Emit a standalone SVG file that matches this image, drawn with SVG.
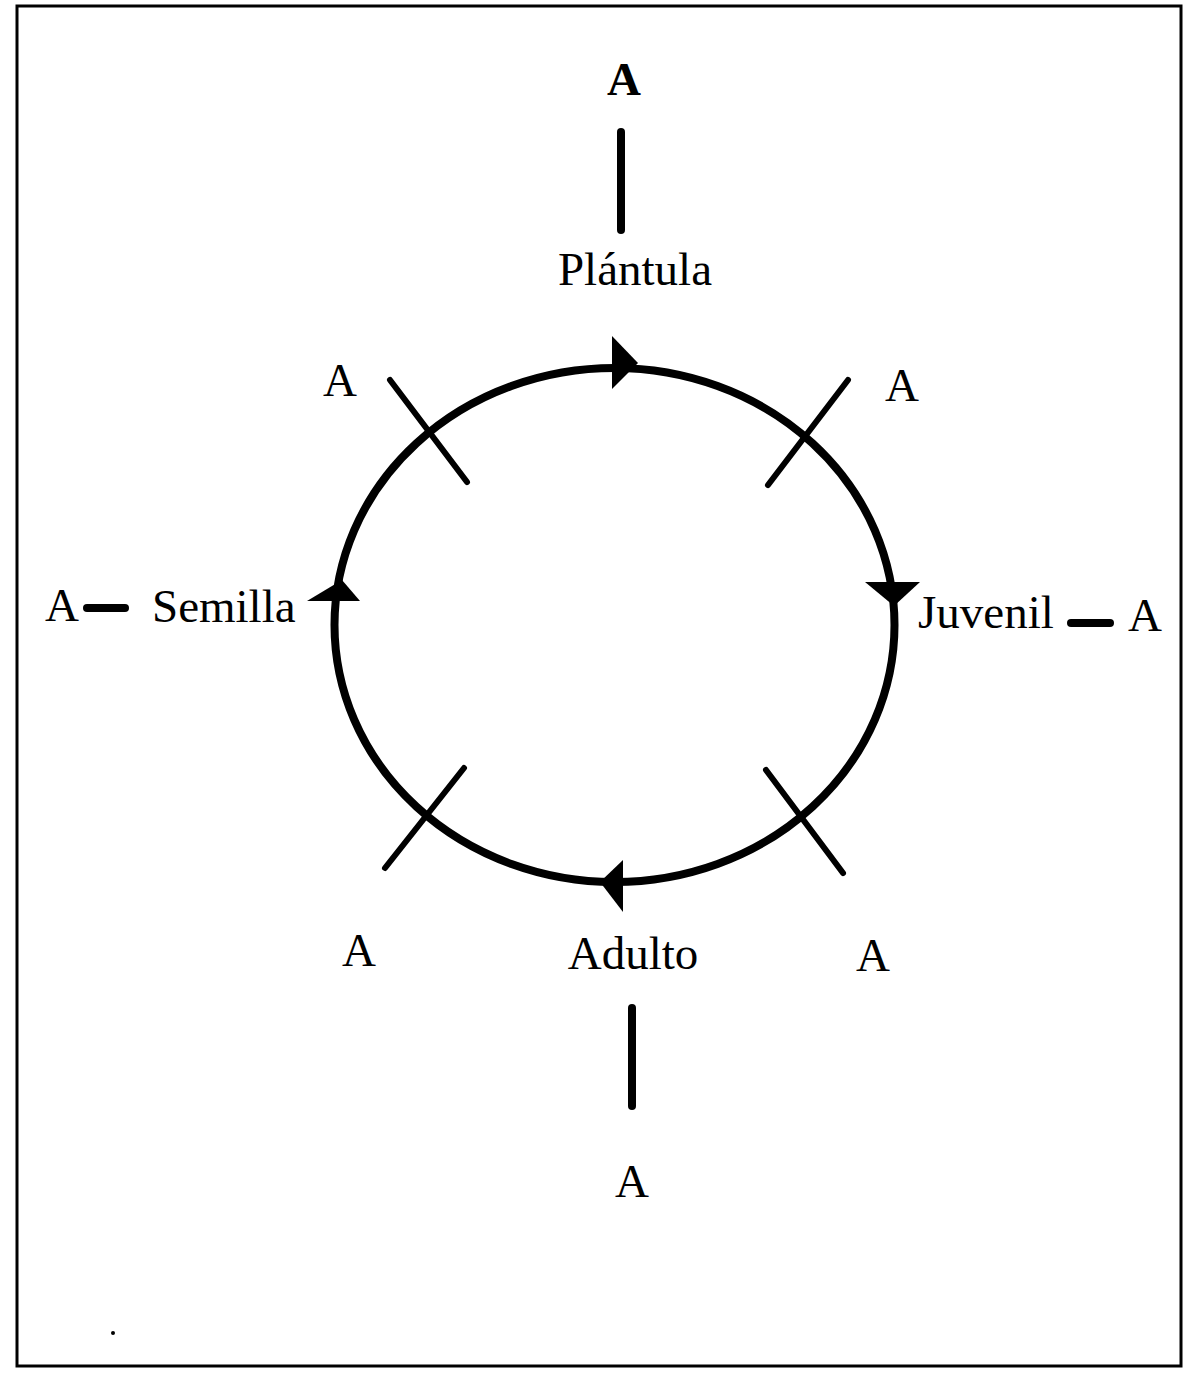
<svg xmlns="http://www.w3.org/2000/svg" width="1193" height="1373" viewBox="0 0 1193 1373">
<style>
.t{font-family:"Liberation Serif","Times New Roman",serif;font-size:47px;fill:#000}
.b{font-weight:bold}
.ln{stroke:#000;stroke-width:8;stroke-linecap:round;fill:none}
.x{stroke:#000;stroke-width:6;stroke-linecap:round;fill:none}
.ah{fill:#000}
</style>
<rect x="0" y="0" width="1193" height="1373" fill="#fff"/>
<rect x="17" y="6" width="1164" height="1360" fill="none" stroke="#000" stroke-width="3"/>
<g id="connectors">
<ellipse cx="614.5" cy="625" rx="280" ry="257" class="ln"/>
<polygon class="ah" points="612,336 638,363 612,389"/>
<polygon class="ah" points="865,582 920,582 894,606"/>
<polygon class="ah" points="600,882 623,860 623,912"/>
<polygon class="ah" points="342,580 360,601 307,601"/>
<line class="x" x1="390" y1="380" x2="467" y2="482"/>
<line class="x" x1="848" y1="380" x2="768" y2="485"/>
<line class="x" x1="464" y1="768" x2="385" y2="868"/>
<line class="x" x1="766" y1="770" x2="843" y2="873"/>
<line class="ln" x1="621" y1="132" x2="621" y2="230"/>
<line class="ln" x1="632" y1="1008" x2="632" y2="1106"/>
<line class="ln" x1="87" y1="608" x2="125" y2="608"/>
<line class="ln" x1="1071" y1="623" x2="1110" y2="623"/>
</g>
<g id="node-plantula"><text class="t" x="635" y="285" text-anchor="middle">Plántula</text></g>
<g id="node-juvenil"><text class="t" x="918" y="628">Juvenil</text></g>
<g id="node-adulto"><text class="t" x="633" y="969" text-anchor="middle">Adulto</text></g>
<g id="node-semilla"><text class="t" x="152" y="622">Semilla</text></g>
<g id="node-a-top"><text class="t b" x="624" y="95" text-anchor="middle">A</text></g>
<g id="node-a-bottom"><text class="t" x="632" y="1197" text-anchor="middle">A</text></g>
<g id="node-a-left"><text class="t" x="62" y="621" text-anchor="middle">A</text></g>
<g id="node-a-right"><text class="t" x="1145" y="631" text-anchor="middle">A</text></g>
<g id="node-a-ul"><text class="t" x="340" y="396" text-anchor="middle">A</text></g>
<g id="node-a-ur"><text class="t" x="902" y="401" text-anchor="middle">A</text></g>
<g id="node-a-ll"><text class="t" x="359" y="966" text-anchor="middle">A</text></g>
<g id="node-a-lr"><text class="t" x="873" y="971" text-anchor="middle">A</text></g>
<circle cx="113" cy="1333" r="2" fill="#000"/>
</svg>
